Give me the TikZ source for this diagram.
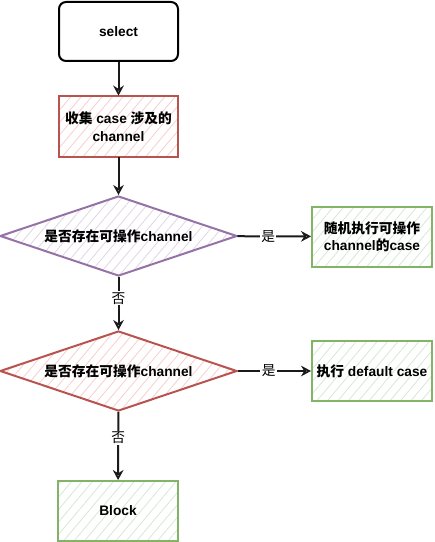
\documentclass[tikz,border=0pt]{standalone}
\usepackage{fontspec}
\setmainfont{Liberation Sans}
\newfontfamily\cjk{Noto Sans CJK SC}
\usetikzlibrary{shapes.geometric,arrows.meta,patterns.meta}
\newlength\px \setlength\px{0.75pt}
\newcommand\zh[1]{{\cjk\bfseries #1}}
\newcommand\zhr[1]{{\cjk #1}}
\definecolor{redline}{HTML}{B85450}
\definecolor{redfill}{HTML}{F8CECC}
\definecolor{purpline}{HTML}{9673A6}
\definecolor{purpfill}{HTML}{E1D5E7}
\definecolor{greenline}{HTML}{82B366}
\definecolor{greenfill}{HTML}{D5E8D4}
\definecolor{edgecol}{HTML}{1A1A1A}
\tikzset{
  base/.style={font=\bfseries\fontsize{10.3pt}{13pt}\selectfont, align=center, line width=1.5pt, inner sep=0pt},
  hatch/.style={pattern={Lines[angle=50,distance=6pt,line width=0.6pt]}},
  startbox/.style={base, draw=black, fill=white, rounded corners=7\px, minimum width=119\px, minimum height=59\px},
  redbox/.style={base, draw=redline, hatch, pattern color=redfill, minimum width=119\px, minimum height=61\px},
  greenbox/.style={base, draw=greenline, hatch, pattern color=greenfill, minimum width=120\px, minimum height=60\px},
  purpdia/.style={base, diamond, shape aspect=2.96, draw=purpline, hatch, pattern color=purpfill, minimum width=237\px, minimum height=80\px},
  reddia/.style={base, diamond, shape aspect=2.96, draw=redline, hatch, pattern color=redfill, minimum width=237\px, minimum height=80\px},
  conn/.style={draw=edgecol, line width=1.5pt, -{Stealth[open,length=7.5pt,width=8pt,line width=1.3pt]}},
  elabel/.style={font=\fontsize{10.3pt}{13pt}\selectfont, fill=white, inner sep=1pt, text=black}
}
\begin{document}
\begin{tikzpicture}[x=1\px,y=-1\px]
\useasboundingbox (0,0) rectangle (435,542);
\node[startbox] (sel) at (118.5,31.5) {select};
\node[redbox] (col) at (118.5,126.5) {\zh{收集} case \zh{涉及的}\\channel};
\node[purpdia] (d1) at (118.5,236) {\zh{是否存在可操作}channel};
\node[greenbox] (r1) at (372,236.5) {\zh{随机执行可操作}\\channel\zh{的}case};
\node[reddia] (d2) at (118.5,371) {\zh{是否存在可操作}channel};
\node[greenbox] (r2) at (372,371) {\zh{执行} default case};
\node[greenbox] (blk) at (118,511) {Block};
\draw[conn] (sel) -- (col);
\draw[conn] (col) -- (d1);
\draw[conn] (d1) -- node[elabel, pos=0.42] (l1) {\zhr{是}} (r1);
\draw[conn] (d1) -- node[elabel, pos=0.4] (l2) {\zhr{否}} (d2);
\draw[conn] (d2) -- node[elabel, pos=0.42] (l3) {\zhr{是}} (r2);
\draw[conn] (d2) -- node[elabel, pos=0.38] (l4) {\zhr{否}} (blk);
\end{tikzpicture}
\end{document}
